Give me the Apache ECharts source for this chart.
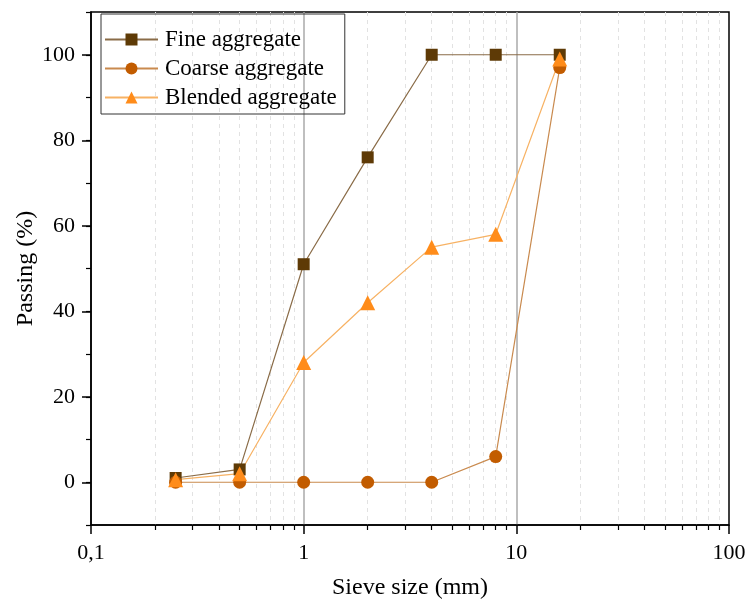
<!DOCTYPE html>
<html>
<head>
<meta charset="utf-8">
<script src="https://cdn.jsdelivr.net/npm/echarts@6/dist/echarts.min.js"></script>
<style>html,body{margin:0;padding:0;background:#fff}#c{width:746px;height:602px}</style>
</head>
<body>
<div id="c"></div>
<script>
// ---- data ----
const sieveSizes = [0.25, 0.5, 1, 2, 4, 8, 16];
const finePassing = [1, 3, 51, 76, 100, 100, 100];
const coarsePassing = [0, 0, 0, 0, 0, 6, 97];
const blendedPassing = [0.6, 2, 28, 42, 55, 58, 99];
const seriesNames = ['Fine aggregate', 'Coarse aggregate', 'Blended aggregate'];
const xTickLabels = {0.1: '0,1', 1: '1', 10: '10', 100: '100'};
const yTickValues = ['-10', '0', '10', '20', '30', '40', '50', '60', '70', '80', '90', '100', '110'];

const FONT = '"Liberation Serif", "Times New Roman", serif';
const pairs = arr => sieveSizes.map((x, i) => [x, arr[i]]);
const isMajorY = (idx, val) => Number(val) % 20 === 0;

const chart = echarts.init(document.getElementById('c'), null, {renderer: 'canvas'});
chart.setOption({
  animation: false,
  backgroundColor: '#fff',
  grid: {left: 91, right: 17, top: 12, bottom: 77, show: true, borderColor: '#000', borderWidth: 1.5,
    containLabel: false, outerBoundsMode: 'none'},
  legend: {
    orient: 'vertical', left: 101, top: 14,
    padding: [14, 8, 5, 3], itemGap: 6, itemWidth: 53, itemHeight: 15,
    borderColor: '#333', borderWidth: 1,
    textStyle: {fontFamily: FONT, fontSize: 23, color: '#000', padding: [0, 0, 0, 2]},
    data: seriesNames
  },
  xAxis: [{
    type: 'log', logBase: 10, min: 0.1, max: 100,
    name: 'Sieve size (mm)', nameLocation: 'middle', nameGap: 51, nameMoveOverlap: false,
    nameTextStyle: {fontFamily: FONT, fontSize: 24, color: '#000'},
    axisLine: {onZero: false, lineStyle: {color: '#000', width: 1.5}},
    axisTick: {length: 9, lineStyle: {color: '#000', width: 1.5}},
    minorTick: {show: true, splitNumber: 9, length: 5, lineStyle: {color: '#000', width: 1.2}},
    splitLine: {show: true, showMinLine: false, showMaxLine: false, lineStyle: {color: '#aaa', width: 1.5}},
    minorSplitLine: {show: true, lineStyle: {color: '#e2e2e2', type: [4, 4], width: 1}},
    axisLabel: {fontFamily: FONT, fontSize: 22, color: '#000', margin: 17,
      formatter: v => xTickLabels[v] !== undefined ? xTickLabels[v] : String(v).replace('.', ',')}
  }],
  yAxis: [{
    type: 'value', min: -10, max: 110, interval: 10,
    axisLine: {show: true, lineStyle: {color: '#000', width: 1.5}},
    axisTick: {show: true, length: 5, lineStyle: {color: '#000', width: 1.2}},
    axisLabel: {show: false},
    splitLine: {show: false}
  }, {
    type: 'category', data: yTickValues, boundaryGap: false, position: 'left',
    name: 'Passing (%)', nameLocation: 'middle', nameGap: 53, nameMoveOverlap: false,
    nameTextStyle: {fontFamily: FONT, fontSize: 24, color: '#000'},
    axisLine: {show: false},
    axisTick: {show: true, length: 9, interval: isMajorY, lineStyle: {color: '#000', width: 1.5}},
    axisLabel: {show: true, interval: isMajorY, fontFamily: FONT, fontSize: 22, color: '#000', margin: 16},
    splitLine: {show: false}
  }],
  series: [{
    name: seriesNames[0], type: 'line', data: pairs(finePassing),
    symbol: 'rect', symbolSize: 12,
    itemStyle: {color: '#5e3a06'},
    lineStyle: {color: '#8a6c48', width: 1.2}
  }, {
    name: seriesNames[1], type: 'line', data: pairs(coarsePassing),
    symbol: 'circle', symbolSize: 13,
    itemStyle: {color: '#c25c00'},
    lineStyle: {color: '#c98a4e', width: 1.2}
  }, {
    name: seriesNames[2], type: 'line', data: pairs(blendedPassing),
    symbol: 'triangle', symbolSize: 15,
    itemStyle: {color: '#ff8c1a'},
    lineStyle: {color: '#f7b264', width: 1.2}
  }]
});
</script>
</body>
</html>
